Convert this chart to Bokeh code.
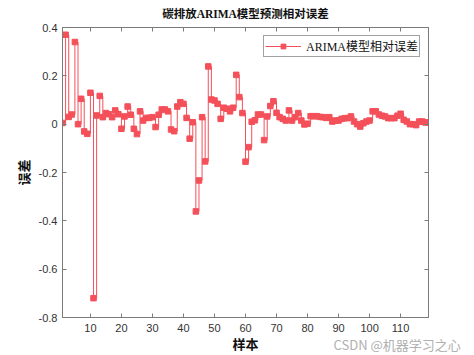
from bokeh.plotting import figure
from bokeh.models import (Range1d, FixedTicker, LinearAxis, Legend, LegendItem, Title,
                          CustomJSTickFormatter)
from bokeh.embed import file_html
from bokeh.resources import INLINE

# ---- data ----
samples = list(range(1, 120))
rel_error = [
    0.005, 0.37, 0.03, 0.04, 0.34, 0.0, 0.105, -0.03, -0.04, 0.13,
    -0.72, 0.036, 0.117, 0.029, 0.046, 0.041, 0.029, 0.057, 0.041, -0.019,
    0.032, 0.073, 0.039, -0.019, -0.041, 0.053, 0.015, 0.026, 0.026, 0.029,
    -0.012, 0.039, 0.061, 0.061, 0.053, -0.022, -0.029, 0.073, 0.091, 0.084,
    0.026, -0.06, 0.008, -0.361, -0.233, 0.029, -0.154, 0.239, 0.102, 0.098,
    0.084, 0.022, 0.068, 0.064, 0.053, 0.068, 0.204, 0.112, 0.046, -0.155,
    -0.095, 0.01, 0.016, 0.04, 0.04, -0.066, 0.032, 0.075, 0.095, 0.047,
    0.029, 0.022, 0.015, 0.057, 0.015, 0.029, 0.046, 0.015, -0.001, 0.002,
    0.033, 0.033, 0.033, 0.03, 0.029, 0.026, 0.029, 0.011, 0.015, 0.015,
    0.022, 0.025, 0.025, 0.032, 0.011, 0.0, -0.01, 0.004, 0.011, 0.015,
    0.053, 0.053, 0.04, 0.035, 0.032, 0.025, 0.025, 0.025, 0.035, 0.043,
    0.018, 0.011, 0.0, 0.0, -0.004, 0.011, 0.011, 0.007, 0.007,
]
x_ticks = [10, 20, 30, 40, 50, 60, 70, 80, 90, 100, 110]
y_ticks = [-0.8, -0.6, -0.4, -0.2, 0.0, 0.2, 0.4]
y_tick_labels = ["-0.8", "-0.6", "-0.4", "-0.2", "0", "0.2", "0.4"]
title_text = "碳排放ARIMA模型预测相对误差"
x_label = "样本"
y_label = "误差"
legend_label = "ARIMA模型相对误差"
watermark = "CSDN @机器学习之心"

SERIF = "Liberation Serif, Noto Sans CJK SC"
SANS = "Liberation Sans, Arial, sans-serif"
RED = "#F4505A"
AXIS = "#7a7a7a"
TXT = "#333333"

p = figure(width=474, height=355, output_backend="svg", toolbar_location=None,
           x_range=Range1d(1, 119), y_range=Range1d(-0.8, 0.4),
           min_border_left=62, min_border_right=46, min_border_top=27,
           min_border_bottom=38, background_fill_color="white",
           border_fill_color="white")

p.xgrid.visible = False
p.ygrid.visible = False
p.outline_line_color = AXIS
p.outline_line_width = 1

p.title.text = title_text
p.title.align = "center"
p.title.vertical_align = "top"
p.title.text_font = SERIF
p.title.text_font_size = "11.5px"
p.title.text_font_style = "bold"
p.title.text_color = "#111111"
p.title.standoff = 11

for ax in (p.xaxis[0], p.yaxis[0]):
    ax.axis_line_color = AXIS
    ax.major_tick_line_color = AXIS
    ax.major_tick_in = 4
    ax.major_tick_out = 0
    ax.minor_tick_line_color = None
    ax.major_label_text_font = SANS
    ax.major_label_text_font_size = "11px"
    ax.major_label_text_color = TXT
    ax.axis_label_text_font = SERIF
    ax.axis_label_text_font_size = "13px"
    ax.axis_label_text_font_style = "bold"
    ax.axis_label_text_color = "#111111"

p.xaxis[0].ticker = FixedTicker(ticks=x_ticks)
p.yaxis[0].ticker = FixedTicker(ticks=y_ticks)
p.yaxis[0].major_label_overrides = {v: s for v, s in zip(y_ticks, y_tick_labels)}
p.xaxis[0].axis_label = x_label
p.yaxis[0].axis_label = y_label
p.xaxis[0].major_label_standoff = 6
p.xaxis[0].axis_label_standoff = 2
p.yaxis[0].major_label_standoff = 5
p.yaxis[0].axis_label_standoff = 4

blank = CustomJSTickFormatter(code="return ''")
top_ax = LinearAxis(ticker=FixedTicker(ticks=x_ticks), axis_line_color=AXIS,
                    major_tick_line_color=AXIS, major_tick_in=4, major_tick_out=0,
                    minor_tick_line_color=None, formatter=blank,
                    major_label_standoff=0)
right_ax = LinearAxis(ticker=FixedTicker(ticks=y_ticks), axis_line_color=AXIS,
                      major_tick_line_color=AXIS, major_tick_in=4, major_tick_out=0,
                      minor_tick_line_color=None, formatter=blank,
                      major_label_standoff=0)
p.add_layout(top_ax, "above")
p.add_layout(right_ax, "right")

step_r = p.step(samples, rel_error, mode="after", line_color=RED, line_width=1)
mark_r = p.scatter(samples, rel_error, marker="square", size=5.5,
                   fill_color=RED, line_color=RED)

legend = Legend(items=[LegendItem(label=legend_label, renderers=[step_r, mark_r])],
                location="top_right", border_line_color="#444444",
                border_line_width=1, label_text_font=SERIF,
                label_text_font_size="12px", label_text_color="#111111",
                glyph_width=36, glyph_height=12, label_height=12, label_standoff=5,
                padding=1, margin=8, spacing=0, background_fill_alpha=1)
p.add_layout(legend, "center")

wm = Title(text=watermark, align="left", vertical_align="top", offset=271,
           standoff=-40, text_font="Noto Sans CJK SC", text_font_size="13px",
           text_font_style="normal", text_color="#b0b0b0")
p.add_layout(wm, "below")

open("out.html", "w").write(file_html(p, INLINE))
